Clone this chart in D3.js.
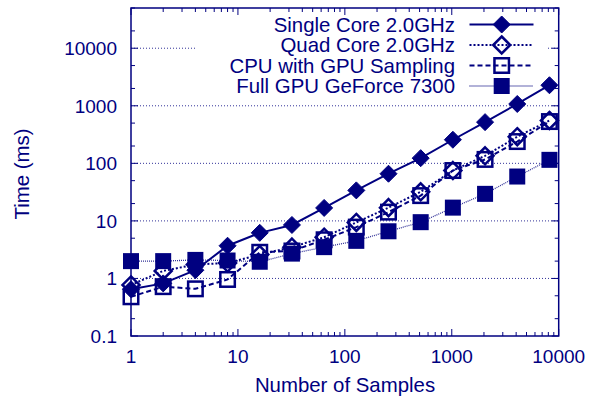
<!DOCTYPE html>
<html><head><meta charset="utf-8">
<script src="https://cdn.jsdelivr.net/npm/d3@7"></script>
<style>body{margin:0;background:#fff}svg{display:block}text{font-family:"Liberation Sans",Arial,Helvetica,sans-serif;fill:#000080}</style>
</head><body>
<script>
const samples = [1,2,4,8,16,32,64,128,256,512,1024,2048,4096,8192];
const singleCore = [0.65,0.82,1.39,3.7,6.2,8.5,16.8,33.9,66,123,257,520,1075,2275];
const quadCore = [0.77,1.35,1.75,1.85,2.6,3.5,5.2,9.4,17,32,75,135,290,555];
const cpuGpu = [0.48,0.72,0.66,0.96,2.85,3.0,4.7,7.8,14.2,27.5,75,117,239,532];
const fullGpu = [2.0,2.0,2.1,2.05,1.95,2.7,3.5,4.5,6.6,9.5,17,29.5,59,115];
const seriesNames = ["Single Core 2.0GHz","Quad Core 2.0GHz","CPU with GPU Sampling","Full GPU GeForce 7300"];
const xTicks = [1,10,100,1000,10000];
const yTicks = [0.1,1,10,100,1000,10000];
const xLabel = "Number of Samples", yLabel = "Time (ms)";

const C = "#000080";
const W = 592, H = 399;
const svg = d3.select("body").append("svg").attr("width", W).attr("height", H);
const x = d3.scaleLog().domain([1,10000]).range([131,558.7]);
const y = d3.scaleLog().domain([0.1,50000]).range([336,8]);
const L = x.range()[0], R = x.range()[1], T = y.range()[1], B = y.range()[0];

// grid
svg.append("g").selectAll("line").data(yTicks.slice(1)).join("line")
  .attr("x1", L).attr("x2", R).attr("y1", d => y(d)).attr("y2", d => y(d))
  .attr("stroke", C).attr("stroke-width", 1).attr("stroke-dasharray", "1,2").attr("opacity", 0.8);

// legend background
svg.append("rect").attr("x", 197).attr("y", 12).attr("width", 350).attr("height", 85).attr("fill", "#fff");

// ticks
const minorX = [], minorY = [];
for (let e = 0; e < 4; e++) for (let m = 2; m <= 9; m++) minorX.push(m * Math.pow(10, e));
for (let e = -1; e < 5; e++) for (const m of [2,5]) { const v = m * Math.pow(10, e); if (v <= 50000) minorY.push(v); }
const tk = svg.append("g").attr("stroke", C).attr("stroke-width", 1);
function xt(vals, len) { vals.forEach(v => { tk.append("line").attr("x1", x(v)).attr("x2", x(v)).attr("y1", B).attr("y2", B - len);
  tk.append("line").attr("x1", x(v)).attr("x2", x(v)).attr("y1", T).attr("y2", T + len); }); }
function yt(vals, len) { vals.forEach(v => { tk.append("line").attr("y1", y(v)).attr("y2", y(v)).attr("x1", L).attr("x2", L + len);
  tk.append("line").attr("y1", y(v)).attr("y2", y(v)).attr("x1", R).attr("x2", R - len); }); }
xt(xTicks, 7); xt(minorX, 4); yt(yTicks, 7); yt(minorY, 4);

// tick labels
svg.append("g").selectAll("text").data(xTicks).join("text")
  .attr("x", d => x(d)).attr("y", 363).attr("text-anchor", "middle").attr("font-size", 19).text(d => d);
svg.append("g").selectAll("text").data(yTicks).join("text")
  .attr("x", 117).attr("y", d => y(d) + 6.8).attr("text-anchor", "end").attr("font-size", 19).text(d => d);

// axis titles
svg.append("text").attr("x", 345).attr("y", 392).attr("text-anchor", "middle").attr("font-size", 20.4).text(xLabel);
svg.append("text").attr("transform", "translate(28.5,174) rotate(-90)").attr("text-anchor", "middle").attr("font-size", 20.4).text(yLabel);

// series
const styles = [
  {vals: singleCore, dash: null, w: 2, op: 1, marker: "diamondF"},
  {vals: quadCore, dash: "2,2", w: 2, op: 1, marker: "diamondO"},
  {vals: cpuGpu, dash: "5,3", w: 2, op: 1, marker: "squareO"},
  {vals: fullGpu, dash: "1,1", w: 1.3, op: 0.8, marker: "squareF"}
];
function marker(g, kind, cx, cy) {
  if (kind === "diamondF" || kind === "diamondO") {
    const r = 8.5;
    g.append("path").attr("d", `M${cx},${cy-r}L${cx+r},${cy}L${cx},${cy+r}L${cx-r},${cy}Z`)
      .attr("fill", kind === "diamondF" ? C : "none").attr("stroke", C).attr("stroke-width", kind === "diamondF" ? 1 : 2.5);
  } else {
    const s = kind === "squareF" ? 16 : 14.5;
    g.append("rect").attr("x", cx - s/2).attr("y", cy - s/2).attr("width", s).attr("height", s)
      .attr("fill", kind === "squareF" ? C : "none").attr("stroke", C).attr("stroke-width", kind === "squareF" ? 0 : 2.5);
  }
}
const line = d3.line().x(d => x(d[0])).y(d => y(d[1]));
styles.forEach(s => {
  const pts = samples.map((v, i) => [v, s.vals[i]]);
  const g = svg.append("g");
  g.append("path").attr("d", line(pts)).attr("fill", "none").attr("stroke", C).attr("stroke-width", s.w)
    .attr("stroke-dasharray", s.dash).attr("opacity", s.op);
  pts.forEach(p => marker(g, s.marker, x(p[0]), y(p[1])));
});

// legend
const rowY = [24.5, 45, 65.5, 86];
styles.forEach((s, i) => {
  const g = svg.append("g");
  g.append("text").attr("x", 455).attr("y", rowY[i] + 7).attr("text-anchor", "end").attr("font-size", 20.4).text(seriesNames[i]);
  g.append("line").attr("x1", 469.5).attr("x2", 533.5).attr("y1", rowY[i]).attr("y2", rowY[i])
    .attr("stroke", C).attr("stroke-width", s.w).attr("stroke-dasharray", s.dash).attr("opacity", s.op);
  marker(g, s.marker, 501.7, rowY[i]);
});

// frame
svg.append("rect").attr("x", L).attr("y", T).attr("width", R - L).attr("height", B - T)
  .attr("fill", "none").attr("stroke", C).attr("stroke-width", 1.5);
</script>
</body></html>
